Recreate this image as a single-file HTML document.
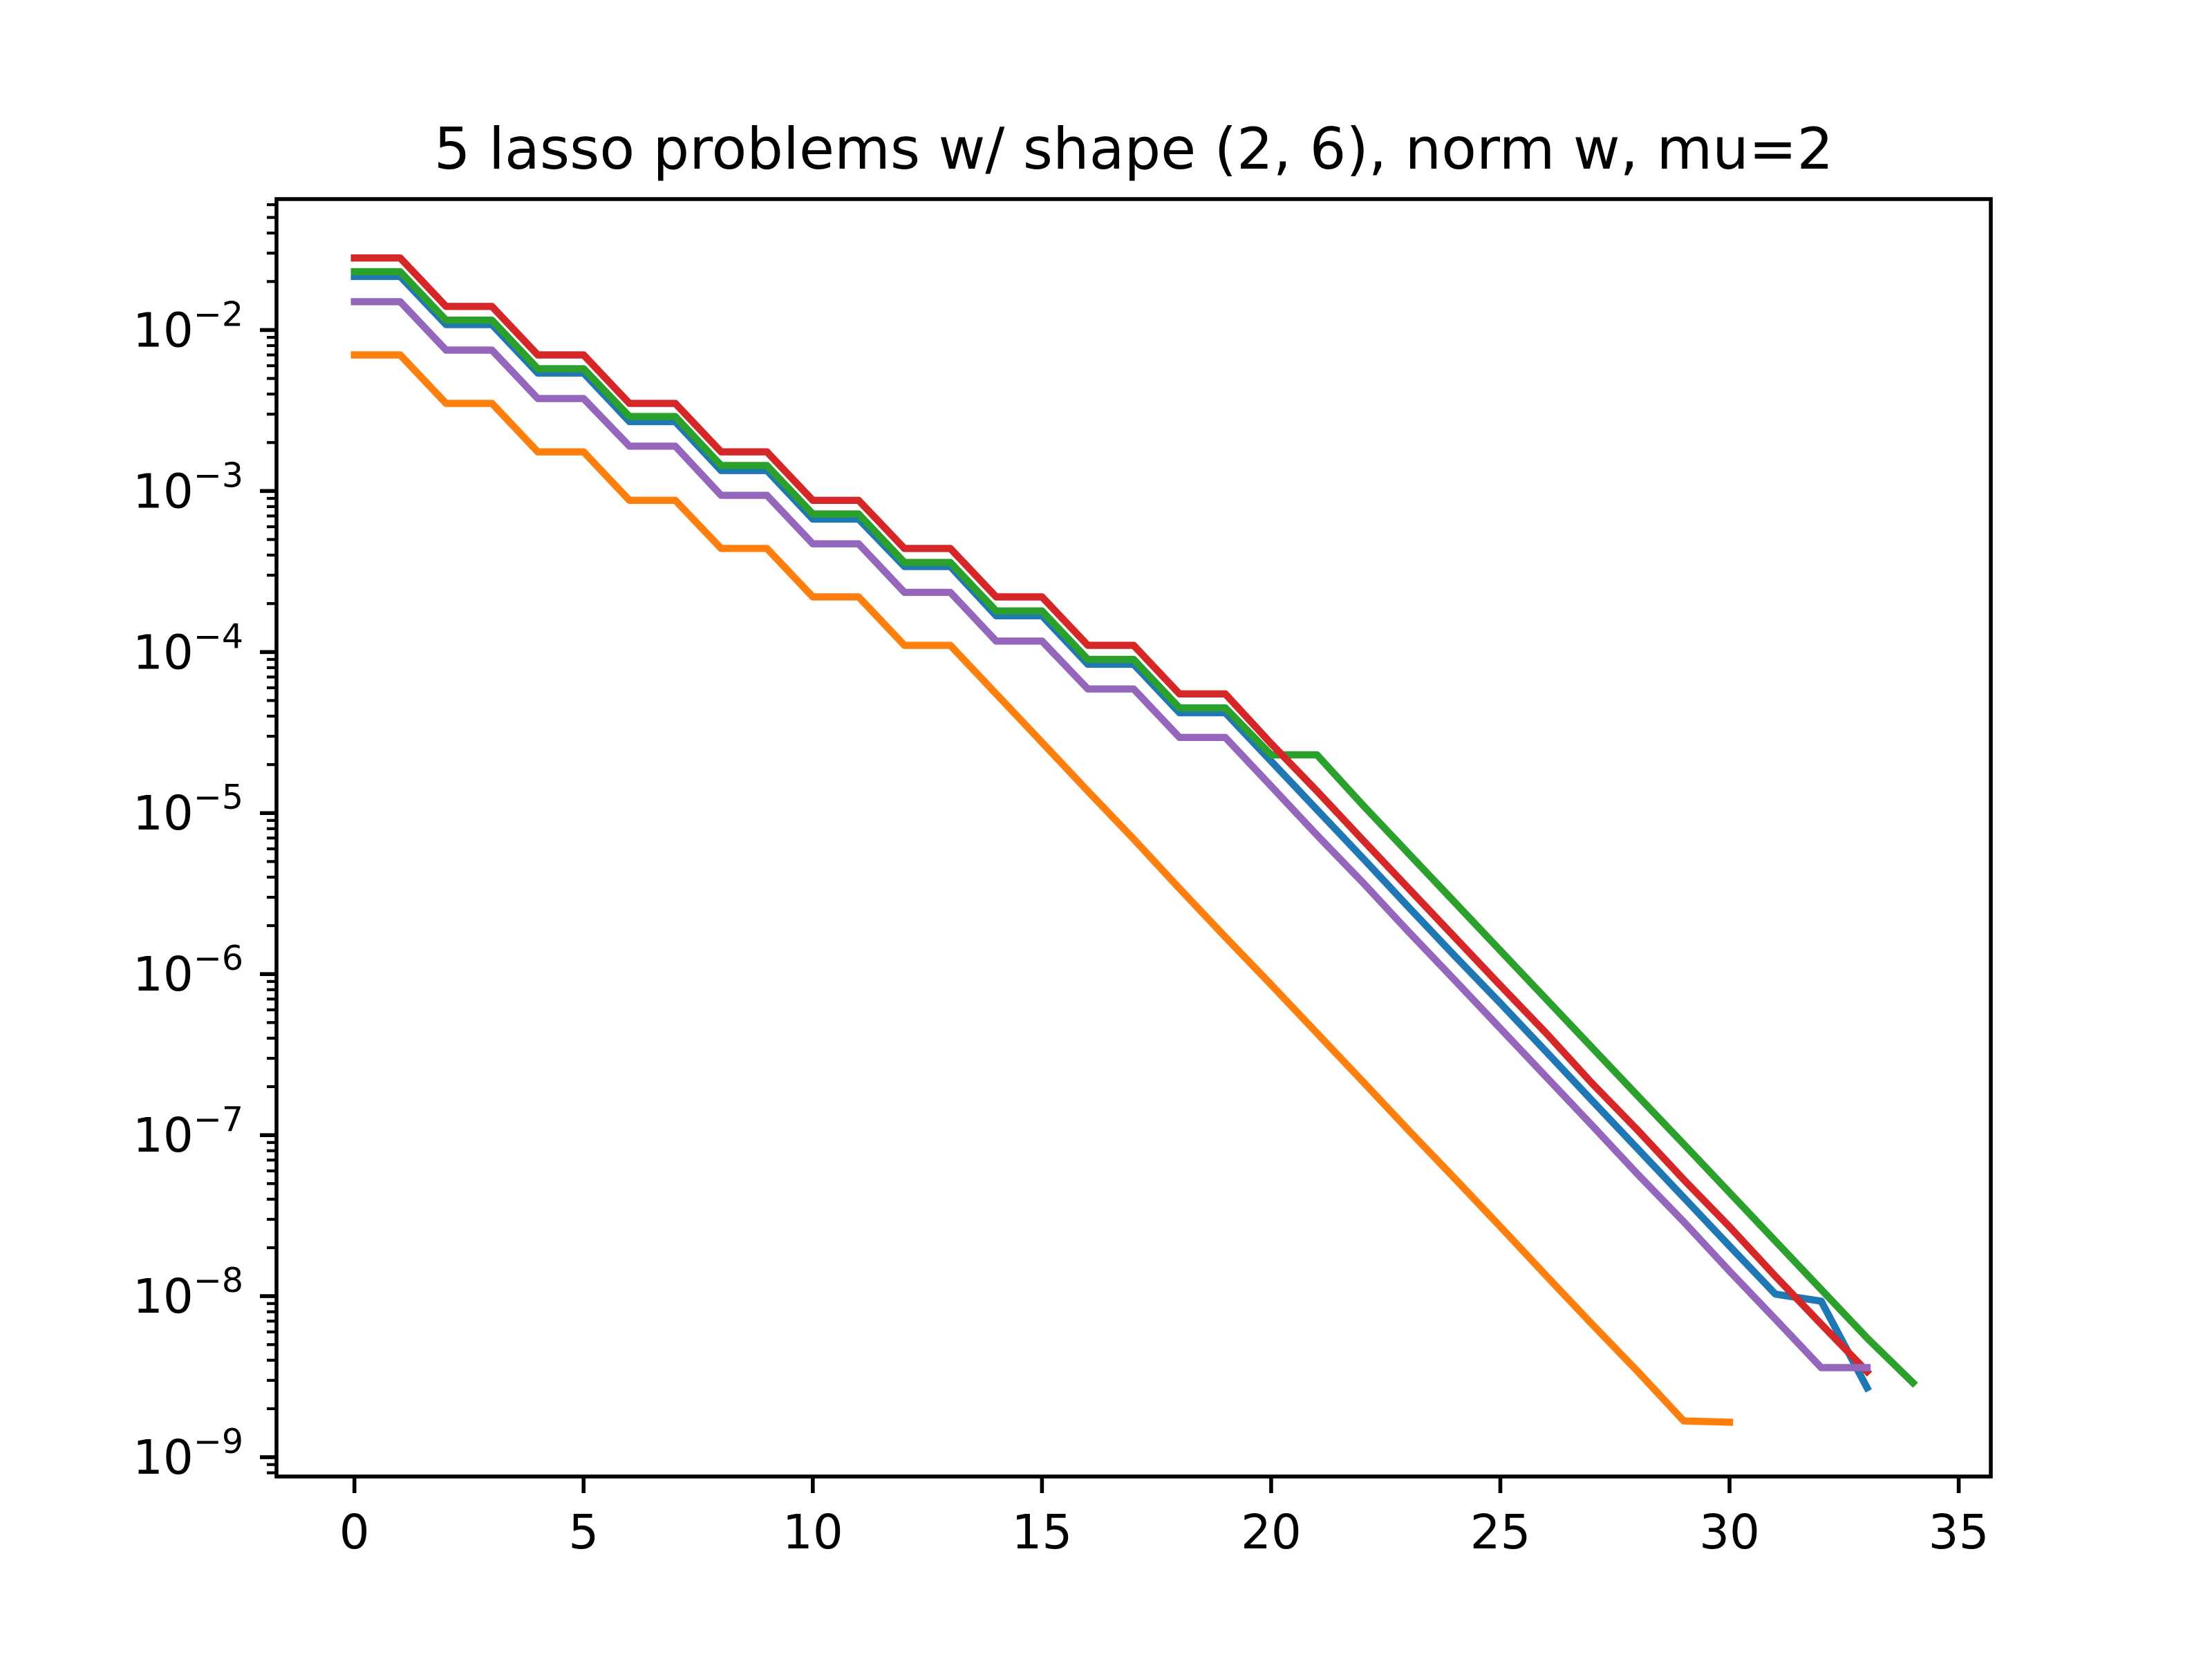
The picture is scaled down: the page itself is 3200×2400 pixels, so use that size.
<!DOCTYPE html>
<html><head><meta charset="utf-8">
<style>html,body{margin:0;padding:0;background:#fff}svg{display:block}</style>
</head><body>
<svg id="chart" width="3200" height="2400" xmlns="http://www.w3.org/2000/svg" font-family="'DejaVu Sans','Liberation Sans',sans-serif">
<rect x="0" y="0" width="3200" height="2400" fill="#fff"/>
<text x="1640" y="244" font-size="83" text-anchor="middle">5 lasso problems w/ shape (2, 6), norm w, mu=2</text>
<g id="plot"></g>
</svg>
<script>
const blueVals=[0.0215,0.0215,0.0108,0.0108,0.0054,0.0054,0.0027,0.0027,0.00134,0.00134,6.7e-4,6.7e-4,3.4e-4,3.4e-4,1.68e-4,1.68e-4,8.4e-5,8.4e-5,4.2e-5,4.2e-5,2.1e-5,1.05e-5,5.25e-6,2.6e-6,1.3e-6,6.6e-7,3.3e-7,1.64e-7,8.2e-8,4.1e-8,2.05e-8,1.03e-8,9.3e-9,2.7e-9];
const orangeVals=[0.007,0.007,0.0035,0.0035,0.00175,0.00175,8.75e-4,8.75e-4,4.4e-4,4.4e-4,2.2e-4,2.2e-4,1.1e-4,1.1e-4,5.5e-5,2.75e-5,1.37e-5,6.9e-6,3.4e-6,1.7e-6,8.6e-7,4.3e-7,2.15e-7,1.07e-7,5.4e-8,2.7e-8,1.34e-8,6.7e-9,3.4e-9,1.68e-9,1.65e-9];
const greenVals=[0.023,0.023,0.0115,0.0115,0.00575,0.00575,0.0029,0.0029,0.00144,0.00144,7.2e-4,7.2e-4,3.6e-4,3.6e-4,1.8e-4,1.8e-4,9e-5,9e-5,4.5e-5,4.5e-5,2.3e-5,2.3e-5,1.12e-5,5.6e-6,2.8e-6,1.4e-6,7e-7,3.5e-7,1.75e-7,8.8e-8,4.4e-8,2.2e-8,1.1e-8,5.5e-9,2.9e-9];
const redVals=[0.028,0.028,0.014,0.014,0.007,0.007,0.0035,0.0035,0.00175,0.00175,8.75e-4,8.75e-4,4.4e-4,4.4e-4,2.2e-4,2.2e-4,1.1e-4,1.1e-4,5.5e-5,5.5e-5,2.7e-5,1.37e-5,6.8e-6,3.4e-6,1.7e-6,8.5e-7,4.3e-7,2.1e-7,1.07e-7,5.3e-8,2.7e-8,1.33e-8,6.7e-9,3.4e-9];
const purpleVals=[0.015,0.015,0.0075,0.0075,0.00375,0.00375,0.0019,0.0019,9.4e-4,9.4e-4,4.7e-4,4.7e-4,2.35e-4,2.35e-4,1.17e-4,1.17e-4,5.9e-5,5.9e-5,2.95e-5,2.95e-5,1.47e-5,7.3e-6,3.7e-6,1.83e-6,9.2e-7,4.6e-7,2.3e-7,1.15e-7,5.7e-8,2.9e-8,1.43e-8,7.2e-9,3.6e-9,3.6e-9];
const xTicks=[0,5,10,15,20,25,30,35];
const yTickExps=[-9,-8,-7,-6,-5,-4,-3,-2];

const NS="http://www.w3.org/2000/svg";
const L=400,R=2880,T=288,B=2136;
const xMin=-1.7,xMax=35.7,yMinLog=-9.12,yMaxLog=-1.187;
const X=v=>L+(v-xMin)/(xMax-xMin)*(R-L);
const Y=v=>B-(Math.log10(v)-yMinLog)/(yMaxLog-yMinLog)*(B-T);
const g=document.getElementById('plot');
function mk(tag,attrs){const e=document.createElementNS(NS,tag);for(const k in attrs)e.setAttribute(k,attrs[k]);g.appendChild(e);return e;}

const series=[[blueVals,'#1f77b4','series-1-line'],[orangeVals,'#ff7f0e','series-2-line'],[greenVals,'#2ca02c','series-3-line'],[redVals,'#d62728','series-4-line'],[purpleVals,'#9467bd','series-5-line']];
series.forEach(([vals,col,name])=>{
  const d=vals.map((v,i)=>(i?'L':'M')+X(i).toFixed(1)+','+Y(v).toFixed(1)).join(' ');
  const p=mk('path',{d:d,fill:'none',stroke:col,'stroke-width':10.4,'stroke-linejoin':'round','stroke-linecap':'square'});
  
  
});

xTicks.forEach(t=>{
  const x=X(t);
  const tk=mk('line',{x1:x,x2:x,y1:B,y2:B+24,stroke:'#000','stroke-width':5.6});
  
  
  const tx=mk('text',{x:x,y:B+104,'font-size':69,'text-anchor':'middle'});
  tx.textContent=t;
  
  
});
for(let e=-10;e<=-1;e++){
  for(let m=2;m<=9;m++){
    const lv=e+Math.log10(m);
    if(lv<yMinLog||lv>yMaxLog)continue;
    const y=Y(m*Math.pow(10,e));
    const mt=mk('line',{x1:L-14,x2:L,y1:y,y2:y,stroke:'#000','stroke-width':4.2});
    
    
  }
}
yTickExps.forEach(e=>{
  const y=Y(Math.pow(10,e));
  const tk=mk('line',{x1:L-24,x2:L,y1:y,y2:y,stroke:'#000','stroke-width':5.6});
  
  
  const tx=mk('text',{x:L-48,y:y+24,'font-size':69,'text-anchor':'end'});
  
  
  const a=document.createElementNS(NS,'tspan');a.textContent='10';tx.appendChild(a);
  const b=document.createElementNS(NS,'tspan');b.setAttribute('dy','-30');b.setAttribute('font-size','49');b.textContent='\u2212'+(-e);tx.appendChild(b);
});
const frame=mk('rect',{x:L,y:T,width:R-L,height:B-T,fill:'none',stroke:'#000','stroke-width':5.6});


</script>
</body></html>
